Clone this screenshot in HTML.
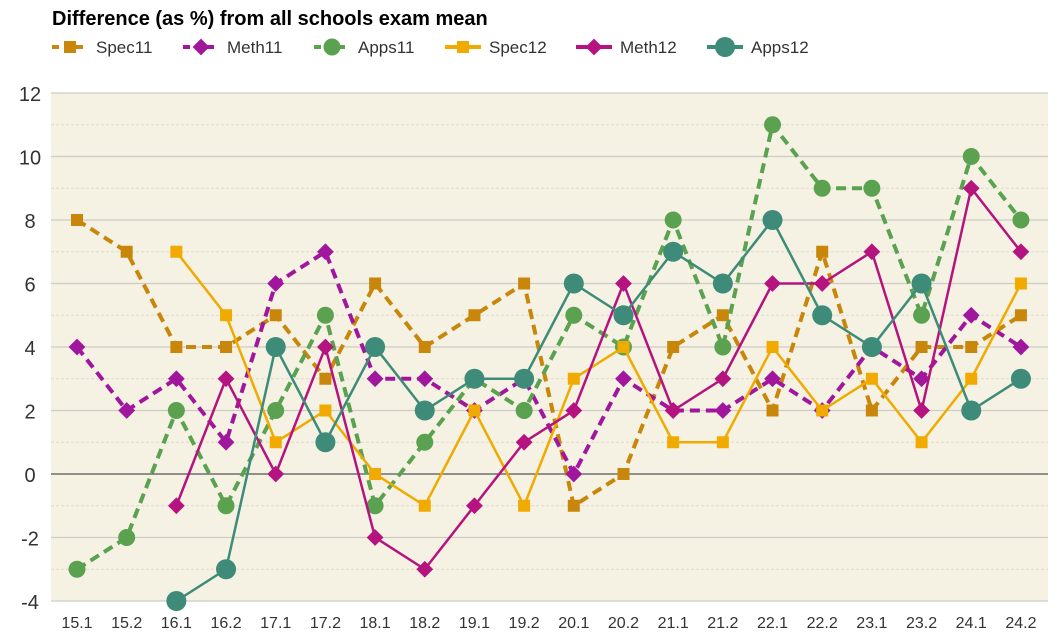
<!DOCTYPE html>
<html><head><meta charset="utf-8"><style>
body{margin:0;background:#fff;}
svg{display:block;font-family:"Liberation Sans",Arial,sans-serif;}
</style></head><body>
<svg id="c" width="1056" height="640" xmlns="http://www.w3.org/2000/svg"></svg>
<script>
const s=document.getElementById('c');let h='';
const X=i=>77+i*49.68, Y=v=>93+(12-v)*31.75;
h+=`<text x="52" y="25" font-size="20" font-weight="bold" fill="#000">Difference (as %) from all schools exam mean</text>`;
h+=`<rect x="51" y="93" width="997" height="508" fill="#f5f2e3"/>`;
for(let v=-4;v<=12;v++){const y=Y(v);
 if(v==0)h+=`<line x1="51" x2="1048" y1="${y}" y2="${y}" stroke="#555" stroke-width="1.2"/>`;
 else if(v%2)h+=`<line x1="51" x2="1048" y1="${y}" y2="${y}" stroke="#dedad0" stroke-width="1" stroke-dasharray="3,2"/>`;
 else h+=`<line x1="51" x2="1048" y1="${y}" y2="${y}" stroke="#cfccc6" stroke-width="1.3"/>`;
 if(v%2==0)h+=`<text x="30" y="${y+8}" font-size="20" text-anchor="middle" fill="#333">${v}</text>`;}
const cats=['15.1','15.2','16.1','16.2','17.1','17.2','18.1','18.2','19.1','19.2','20.1','20.2','21.1','21.2','22.1','22.2','23.1','23.2','24.1','24.2'];
cats.forEach((c,i)=>h+=`<text x="${X(i)}" y="628" font-size="16" text-anchor="middle" fill="#333">${c}</text>`);
const N=null;
const S=[
['Spec11','#c8860a','sq',true,[8,7,4,4,5,3,6,4,5,6,-1,0,4,5,2,7,2,4,4,5],6],
['Meth11','#a0179e','di',true,[4,2,3,1,6,7,3,3,2,3,0,3,2,2,3,2,4,3,5,4],6],
['Apps11','#5aa150','ci',true,[-3,-2,2,-1,2,5,-1,1,3,2,5,4,8,4,11,9,9,5,10,8],8.5],
['Spec12','#f0aa00','sq',false,[N,N,7,5,1,2,0,-1,2,-1,3,4,1,1,4,2,3,1,3,6],6],
['Meth12','#b5137f','di',false,[N,N,-1,3,0,4,-2,-3,-1,1,2,6,2,3,6,6,7,2,9,7],6],
['Apps12','#3d8b78','ci',false,[N,N,-4,-3,4,1,4,2,3,3,6,5,7,6,8,5,4,6,2,3],10]];
function mk(t,x,y,c,r){if(t=='sq')return `<rect x="${x-r}" y="${y-r}" width="${2*r}" height="${2*r}" fill="${c}"/>`;
 if(t=='di')return `<polygon points="${x},${y-r*1.4} ${x+r*1.4},${y} ${x},${y+r*1.4} ${x-r*1.4},${y}" fill="${c}"/>`;
 return `<circle cx="${x}" cy="${y}" r="${r}" fill="${c}"/>`;}
S.forEach(([n,c,t,d,v,r])=>{let p=[];v.forEach((a,i)=>{if(a!==N)p.push(X(i)+','+Y(a))});
 h+=`<polyline points="${p.join(' ')}" fill="none" stroke="${c}" stroke-width="${d?4:2.5}" ${d?'stroke-dasharray="10,6"':''}/>`;
 v.forEach((a,i)=>{if(a!==N)h+=mk(t,X(i),Y(a),c,r)});});
const lx=[52,183,314,445,576,707];
S.forEach(([n,c,t,d,v,r],k)=>{const x=lx[k];h+=`<line x1="${x}" x2="${x+36}" y1="47" y2="47" stroke="${c}" stroke-width="4" ${d?'stroke-dasharray="7,5"':''}/>`+mk(t,x+18,47,c,t=='ci'?r:6)+`<text x="${x+44}" y="53" font-size="17" fill="#333">${n}</text>`;});
s.innerHTML=h;
</script>
</body></html>
